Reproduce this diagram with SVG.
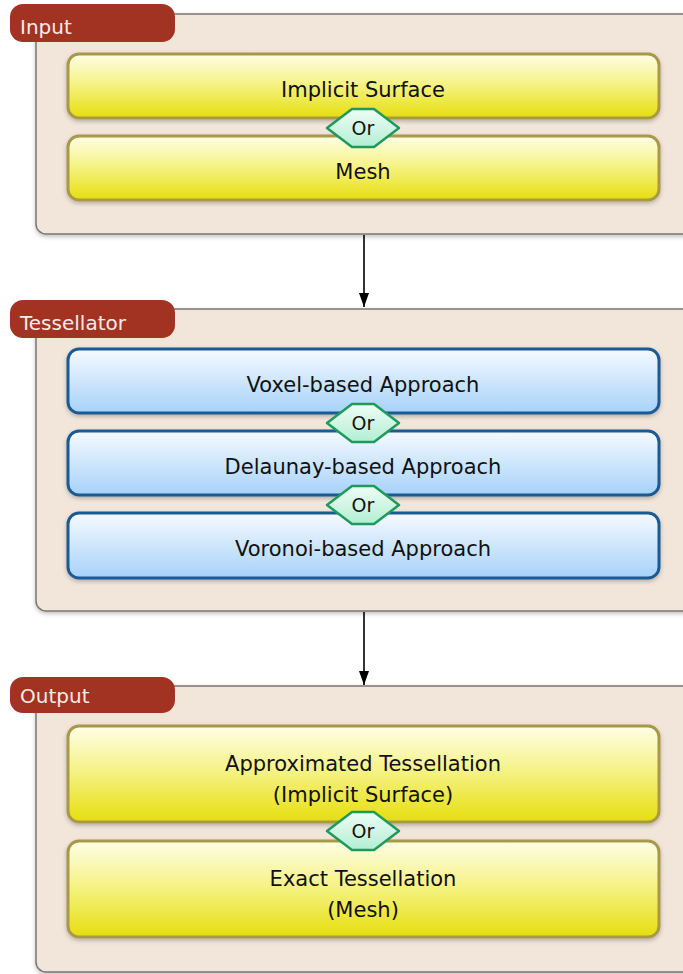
<svg xmlns="http://www.w3.org/2000/svg" width="683" height="974" viewBox="0 0 683 974">
<defs>
<linearGradient id="gy" x1="0" y1="0" x2="0" y2="1">
<stop offset="0" stop-color="#fefee6"/><stop offset="0.45" stop-color="#f6f38a"/><stop offset="1" stop-color="#e6de0c"/>
</linearGradient>
<linearGradient id="gb" x1="0" y1="0" x2="0" y2="1">
<stop offset="0" stop-color="#f6faff"/><stop offset="1" stop-color="#a6d2fa"/>
</linearGradient>
<linearGradient id="gg" x1="0" y1="0" x2="0" y2="1">
<stop offset="0" stop-color="#effdf6"/><stop offset="1" stop-color="#b2eed3"/>
</linearGradient>
<filter id="sh" x="-5%" y="-5%" width="110%" height="115%">
<feDropShadow dx="0" dy="2" stdDeviation="2" flood-color="#000" flood-opacity="0.25"/>
</filter>
<marker id="ah" viewBox="0 0 14 10" refX="14" refY="5" markerWidth="14" markerHeight="10" markerUnits="userSpaceOnUse" orient="auto">
<path d="M0,0 L14,5 L0,10 z" fill="#000"/>
</marker>
<g id="orShape">
<path d="M-36,0 L-11,-19 L11,-19 L36,0 L11,19 L-11,19 Z" fill="url(#gg)" stroke="#1e9a5c" stroke-width="2.5" stroke-linejoin="round"/>
<text x="0" y="7" text-anchor="middle" class="or">Or</text>
</g>
</defs>
<style>
.cont{fill:#f2e6db;stroke:#7a7672;stroke-width:1.5;}
.pill{fill:#a23222;}
.lbl{font-family:"DejaVu Sans",sans-serif;font-size:20px;fill:#f8ebe6;}
.yb{fill:url(#gy);stroke:#a8984a;stroke-width:3;}
.bb{fill:url(#gb);stroke:#1b5a94;stroke-width:3;}
.t{font-family:"DejaVu Sans",sans-serif;font-size:21px;fill:#111;text-anchor:middle;}
.or{font-family:"DejaVu Sans",sans-serif;font-size:19px;fill:#111;}
.conn{stroke:#000;stroke-width:1.6;fill:none;}
</style>
<rect width="683" height="974" fill="#ffffff"/>

<g id="input">
<rect class="cont" x="36" y="14" width="680" height="220" rx="10" filter="url(#sh)"/>
<rect class="pill" x="10" y="4" width="165" height="38" rx="13"/>
<text class="lbl" x="20" y="34">Input</text>
</g>
<g id="implicit-surface">
<rect class="yb" x="68" y="54" width="591" height="64" rx="11" filter="url(#sh)"/>
<text class="t" x="363" y="97">Implicit Surface</text>
</g>
<g id="mesh">
<rect class="yb" x="68" y="136" width="591" height="64" rx="11" filter="url(#sh)"/>
<text class="t" x="363" y="179">Mesh</text>
</g>
<g id="or1"><use href="#orShape" x="363" y="128"/></g>

<g id="tessellator">
<rect class="cont" x="36" y="309" width="680" height="302" rx="10" filter="url(#sh)"/>
<rect class="pill" x="10" y="300" width="165" height="38" rx="13"/>
<text class="lbl" x="20" y="330">Tessellator</text>
</g>
<g id="voxel">
<rect class="bb" x="68" y="349" width="591" height="64" rx="11" filter="url(#sh)"/>
<text class="t" x="363" y="392">Voxel-based Approach</text>
</g>
<g id="delaunay">
<rect class="bb" x="68" y="431" width="591" height="64" rx="11" filter="url(#sh)"/>
<text class="t" x="363" y="474">Delaunay-based Approach</text>
</g>
<g id="voronoi">
<rect class="bb" x="68" y="513" width="591" height="65" rx="11" filter="url(#sh)"/>
<text class="t" x="363" y="556">Voronoi-based Approach</text>
</g>
<g id="or2"><use href="#orShape" x="363" y="423"/></g>
<g id="or3"><use href="#orShape" x="363" y="505"/></g>

<g id="output">
<rect class="cont" x="36" y="686" width="680" height="286" rx="10" filter="url(#sh)"/>
<rect class="pill" x="10" y="677" width="165" height="36" rx="13"/>
<text class="lbl" x="20" y="703">Output</text>
</g>
<g id="approx">
<rect class="yb" x="68" y="726" width="591" height="96" rx="11" filter="url(#sh)"/>
<text class="t" x="363" y="771">Approximated Tessellation</text>
<text class="t" x="363" y="802">(Implicit Surface)</text>
</g>
<g id="exact">
<rect class="yb" x="68" y="841" width="591" height="96" rx="11" filter="url(#sh)"/>
<text class="t" x="363" y="886">Exact Tessellation</text>
<text class="t" x="363" y="917">(Mesh)</text>
</g>
<g id="or4"><use href="#orShape" x="363" y="831"/></g>

<g id="connectors">
<line class="conn" x1="364" y1="235" x2="364" y2="307" marker-end="url(#ah)"/>
<line class="conn" x1="364" y1="612" x2="364" y2="685" marker-end="url(#ah)"/>
</g>
</svg>
